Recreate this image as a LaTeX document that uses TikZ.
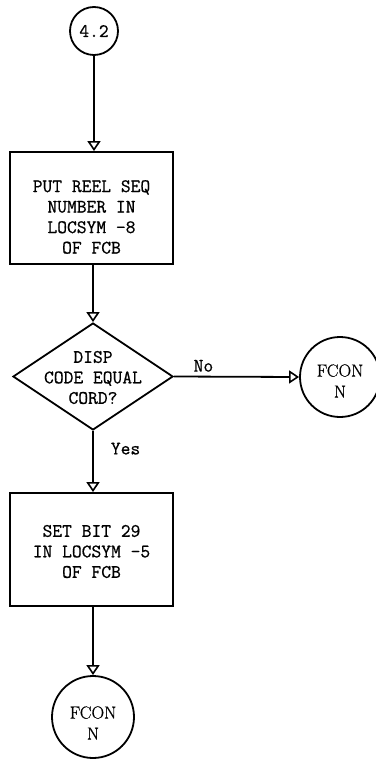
\documentclass[tikz,border=0pt]{standalone}
\usepackage{fontspec}
\newfontfamily\twfont[FakeBold=0.7]{Latin Modern Mono}
\newfontfamily\fcfont[FakeBold=0.6]{Latin Modern Roman}
\usetikzlibrary{shapes.geometric,arrows.meta}
\begin{document}
\begin{tikzpicture}[x=1pt,y=-1pt,
  every node/.style={inner sep=0pt},
  txt/.style={font=\twfont\fontsize{19}{20.5}\selectfont, align=center},
  ftxt/.style={font=\fcfont\fontsize{17.5}{21}\selectfont, align=center},
  procbox/.style={draw, line width=1.8pt, minimum width=163pt, minimum height=112pt},
  conn/.style={draw, line width=1.8pt, circle},
  decision/.style={draw, line width=1.8pt, diamond, minimum width=160pt, minimum height=107pt},
  flow/.style={line width=1.8pt, -{Triangle[open,length=10pt,width=13pt,line width=1.6pt]}}
]
\useasboundingbox (0,0) rectangle (375,759);
% nodes
\node[conn, minimum size=48pt, txt] (c1) at (94,31) {4.2};
\node[procbox, label={[txt,yshift=-9pt]center:{PUT REEL SEQ\\NUMBER IN\\LOCSYM -8\\OF FCB}}] (b1) at (91.5,208) {};
\node[decision, label={[txt,yshift=-1pt]center:{DISP\\CODE EQUAL\\CORD?}}] (d) at (93,376.5) {};
\node[conn, minimum size=80pt, label={[ftxt,yshift=-4pt]center:{FCON\\N}}] (c2) at (340,377) {};
\node[procbox, minimum height=113pt, label={[txt,yshift=-2pt]center:{SET BIT 29\\IN LOCSYM -5\\OF FCB}}] (b2) at (91.5,549.5) {};
\node[conn, minimum size=82pt, label={[ftxt,yshift=-6pt]center:{FCON\\N}}] (c3) at (93,717) {};
% connectors
\draw[flow] (c1.south) -- (c1.south |- b1.north);
\draw[flow] (d.north |- b1.south) -- (d.north);
\draw[flow] (d.east) -- node[txt, above=4pt, pos=0.236] (nol) {No} (c2.west);
\draw[flow] (d.south) -- node[txt, right=17pt, pos=0.29] (yesl) {Yes} (d.south |- b2.north);
\draw[flow] (c3.north |- b2.south) -- (c3.north);
\end{tikzpicture}
\end{document}
